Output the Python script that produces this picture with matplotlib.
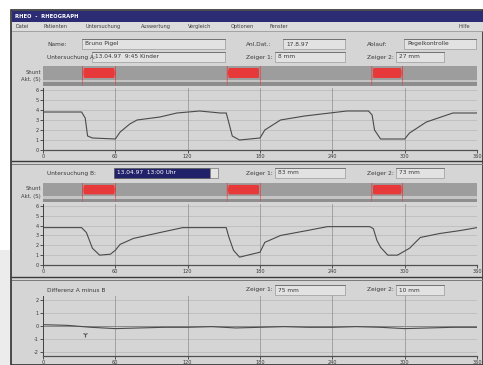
import matplotlib
matplotlib.use("Agg")
import matplotlib.pyplot as plt
from matplotlib.patches import Rectangle, FancyBboxPatch

W, H = 483, 365

# time axis (s) and tick labels
xticks = [0, 60, 120, 180, 240, 300, 360]

# Untersuchung A
t_a = [0, 32, 35, 37, 41, 60, 64, 72, 78, 97, 111, 130, 147, 152, 154, 157, 163, 180, 184,
       197, 217, 238, 252, 270, 273, 275, 280, 300, 304, 318, 340, 360]
v_a = [3.8, 3.8, 3.2, 1.4, 1.2, 1.1, 1.8, 2.6, 3.0, 3.3, 3.7, 3.9, 3.7, 3.7, 2.8, 1.4, 1.0, 1.2, 2.0,
       3.0, 3.4, 3.7, 3.9, 3.9, 3.5, 2.0, 1.1, 1.1, 1.7, 2.8, 3.7, 3.7]

# Untersuchung B
t_b = [0, 32, 36, 41, 47, 56, 60, 64, 75, 97, 116, 152, 154, 158, 163, 180, 184, 197, 219,
       236, 271, 274, 277, 280, 286, 294, 304, 313, 329, 346, 360]
v_b = [3.8, 3.8, 3.3, 1.7, 1.0, 1.1, 1.5, 2.1, 2.7, 3.3, 3.8, 3.8, 2.9, 1.5, 0.8, 1.3, 2.3, 3.0, 3.5,
       3.9, 3.9, 3.7, 2.5, 1.8, 1.0, 1.0, 1.7, 2.8, 3.2, 3.5, 3.8]

# Differenz A minus B
t_d = [0, 20, 40, 60, 80, 100, 120, 140, 160, 180, 200, 220, 240, 260, 280, 300, 320, 340, 360]
v_d = [0.1, 0.05, -0.1, -0.2, -0.15, -0.1, -0.1, -0.05, -0.15, -0.1, -0.05, -0.1, -0.1, -0.05,
       -0.1, -0.2, -0.15, -0.1, -0.1]

# Shunt-Phasen (rote Balken), Start/Ende in s
shunt_start = [31, 151, 271]
shunt_end = [62, 182, 300]

BG = "#d5d5d5"
GRID = "#bcbcbc"
VGRID = "#9a9a9a"
LINE = "#4a4a4a"
TXT = "#3a3a3a"
RED = "#e8393a"
FS = 4.2


def box(x0, y0, x1, y1):
    return [x0 / W, 1 - y1 / H, (x1 - x0) / W, (y1 - y0) / H]


fig = plt.figure(figsize=(W / 100, H / 100), dpi=100)
fig.patch.set_facecolor("white")

ui = fig.add_axes([0, 0, 1, 1])
ui.set_xlim(0, W)
ui.set_ylim(H, 0)
ui.axis("off")

# window frame, title bar, menu
ui.add_patch(Rectangle((0, 250), 11, 115, color="#ececec", lw=0))
ui.add_patch(Rectangle((11, 10), W - 11, H - 10, facecolor=BG, edgecolor="#303030", lw=1.2))
ui.add_patch(Rectangle((12, 11), W - 12, 11, color="#2c2c74", lw=0))
ui.text(15, 16.5, "RHEO  -  RHEOGRAPH", color="white", fontsize=3.8, va="center", weight="bold")
ui.add_patch(Rectangle((12, 22), W - 12, 9, color="#dcdcdc", lw=0))
ui.plot([12, W], [31, 31], color="#9a9a9a", lw=0.6)
menu = ["Datei", "Patienten", "Untersuchung", "Auswertung", "Vergleich", "Optionen", "Fenster"]
mx = 16
for m in menu:
    ui.text(mx, 26.5, m, fontsize=3.6, color=TXT, va="center")
    mx += len(m) * 4.0 + 7
ui.text(470, 26.5, "Hilfe", fontsize=3.6, color=TXT, va="center", ha="right")


def field(x0, x1, y, text="", dark=False):
    if dark:
        ui.add_patch(Rectangle((x0, y - 5), x1 - x0, 10, facecolor="#22226a", edgecolor="#555", lw=0.5))
        ui.add_patch(Rectangle((x1, y - 5), 8, 10, facecolor="#e4e4e4", edgecolor="#777", lw=0.5))
        ui.text(x0 + 3, y, text, fontsize=FS, color="white", va="center")
    else:
        ui.add_patch(Rectangle((x0, y - 5), x1 - x0, 10, facecolor="#e2e2e2", edgecolor="#9a9a9a", lw=0.5))
        ui.plot([x0, x1], [y - 5, y - 5], color="#6a6a6a", lw=0.6)
        ui.text(x0 + 3, y, text, fontsize=FS, color=TXT, va="center")


def label(x, y, text, ha="left"):
    ui.text(x, y, text, fontsize=FS, color=TXT, va="center", ha=ha)


# panel A header
label(47, 44, "Name:")
field(82, 225, 44, "Bruno Pigel")
label(246, 44, "Anl.Dat.:")
field(283, 345, 44, "17.8.97")
label(367, 44, "Ablauf:")
field(404, 476, 44, "Pegelkontrolle")
label(47, 57, "Untersuchung A:")
field(92, 225, 57, "13.04.97  9:45 Kinder")
label(246, 57, "Zeiger 1:")
field(275, 345, 57, "8 mm")
label(367, 57, "Zeiger 2:")
field(396, 444, 57, "27 mm")

# panel B header
label(47, 173, "Untersuchung B:")
field(114, 210, 173, "13.04.97  13:00 Uhr", dark=True)
label(246, 173, "Zeiger 1:")
field(275, 345, 173, "83 mm")
label(367, 173, "Zeiger 2:")
field(396, 444, 173, "73 mm")

# panel C header
label(47, 290, "Differenz A minus B")
label(246, 290, "Zeiger 1:")
field(275, 345, 290, "75 mm")
label(367, 290, "Zeiger 2:")
field(396, 444, 290, "10 mm")

# separators between panels
for y in (161, 277):
    ui.plot([12, W], [y, y], color="#3a3a3a", lw=1.0)
    ui.plot([12, W], [y + 2.5, y + 2.5], color="#7a7a7a", lw=0.7)


def shunt_band(y0, y1):
    ax = fig.add_axes(box(43, y0, 477, y1))
    ax.set_xlim(0, 360)
    ax.set_ylim(0, 1)
    ax.axis("off")
    ax.add_patch(Rectangle((0, 0.32), 360, 0.68, color="#9d9d9d", lw=0))
    ax.add_patch(Rectangle((0, 0.18), 360, 0.14, color="#c4c4c4", lw=0))
    ax.add_patch(Rectangle((0, 0.0), 360, 0.18, color="#8e8e8e", lw=0))
    for s, e in zip(shunt_start, shunt_end):
        ax.add_patch(FancyBboxPatch((s + 1.5, 0.40), e - s - 3, 0.50,
                                    boxstyle="round,pad=0,rounding_size=2", color=RED, lw=0))
    ui.text(41, (y0 + y1) / 2 - 4, "Shunt", fontsize=3.8, color=TXT, ha="right", va="center")
    ui.text(41, (y0 + y1) / 2 + 4, "Akt. (S)", fontsize=3.8, color=TXT, ha="right", va="center")


def trace(y0, y1, t, v, ylim, yticks, ylabels, zero=None):
    ax = fig.add_axes(box(43, y0, 477, y1))
    ax.set_facecolor(BG)
    ax.plot(t, v, color=LINE, lw=0.8)
    ax.set_xlim(0, 360)
    ax.set_ylim(*ylim)
    ax.set_xticks(xticks)
    ax.set_xticklabels([str(x) for x in xticks])
    ax.set_yticks(yticks)
    ax.set_yticklabels(ylabels)
    ax.tick_params(labelsize=3.6, colors=TXT, length=2, width=0.6, pad=1)
    for y in yticks:
        ax.axhline(y, color=GRID, lw=0.6, zorder=0)
    for x in xticks[1:-1]:
        ax.axvline(x, color=VGRID, lw=0.6, zorder=0)
    if zero is not None:
        ax.axhline(zero, color="#8a8a8a", lw=0.7, zorder=0)
    for side in ("top", "right"):
        ax.spines[side].set_visible(False)
    ax.spines["left"].set_color("#404040")
    ax.spines["bottom"].set_color("#505050")
    ax.spines["left"].set_linewidth(0.7)
    ax.spines["bottom"].set_linewidth(0.9)
    return ax


ticks_ab = [0, 1, 2, 3, 4, 5, 6]
shunt_band(66, 86)
trace(88, 150, t_a, v_a, (0, 6.2), ticks_ab, [str(y) for y in ticks_ab])
shunt_band(183, 202)
trace(204, 265, t_b, v_b, (0, 6.2), ticks_ab, [str(y) for y in ticks_ab])

ticks_d = [-2, -1, 0, 1, 2]
axd = trace(296, 356, t_d, v_d, (-2.3, 2.3), ticks_d, [str(y) for y in ticks_d], zero=0)
axd.plot([35], [-0.6], marker="1", color="#555", ms=4, mew=0.8)

fig.savefig("out.png", dpi=100, facecolor=fig.get_facecolor())
